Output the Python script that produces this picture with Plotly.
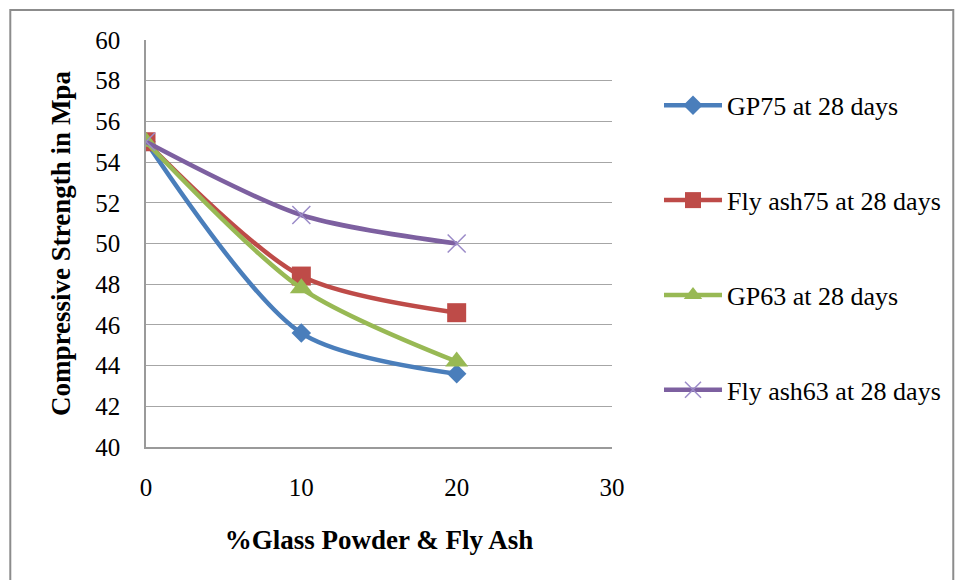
import plotly.graph_objects as go

x_vals = [0, 10, 20]
gp75 = [55.0, 45.6, 43.6]
flyash75 = [55.0, 48.4, 46.6]
gp63 = [55.0, 47.8, 44.2]
flyash63 = [55.0, 51.4, 50.0]

names = ["GP75 at 28 days", "Fly ash75 at 28 days", "GP63 at 28 days", "Fly ash63 at 28 days"]
series = [gp75, flyash75, gp63, flyash63]
colors = ["#4A7EBB", "#BE4B48", "#98B954", "#7D60A0"]
symbols = ["diamond", "square", "triangle-up", "x-thin"]
msizes = [15, 19, 20, 18]

FONT = "Liberation Serif, Times New Roman, serif"

fig = go.Figure()
for i, (nm, ys) in enumerate(zip(names, series)):
    mk = dict(symbol=symbols[i], size=msizes[i], color=colors[i])
    if symbols[i] == "x-thin":
        mk = dict(symbol="x-thin", size=msizes[i], color="#9B8BC8",
                  line=dict(width=1.5, color="#9B8BC8"))
    fig.add_trace(go.Scatter(
        x=x_vals, y=ys, name=nm, mode="lines+markers",
        line=dict(color=colors[i], width=4.5, shape="spline", smoothing=0.8),
        marker=mk, legendgroup=f"g{i}"))

fig.update_layout(
    width=957, height=580,
    margin=dict(l=146, r=344, t=40, b=133),
    paper_bgcolor="white", plot_bgcolor="white",
    font=dict(family=FONT, size=25, color="black"),
    showlegend=True,
    legend=dict(x=1.0985, y=0.897, xanchor="left", yanchor="top",
                font=dict(family=FONT, size=26, color="black"),
                tracegroupgap=58, traceorder="grouped", itemwidth=58,
                bgcolor="rgba(0,0,0,0)"),
    xaxis=dict(range=[0, 30], tickvals=[0, 10, 20, 30], showgrid=False,
               showline=True, linecolor="#9a9a9a", linewidth=1.5,
               zeroline=False, ticks="", ticklabelstandoff=17,
               tickfont=dict(family=FONT, size=25),
               title=dict(text="<b>%Glass Powder & Fly Ash</b>", standoff=30,
                          font=dict(family=FONT, size=27))),
    yaxis=dict(range=[40, 60], tickvals=list(range(40, 61, 2)), showgrid=True,
               gridcolor="#a6a6a6", gridwidth=1.2,
               showline=True, linecolor="#9a9a9a", linewidth=1.5,
               zeroline=False, ticks="", ticklabelstandoff=19,
               tickfont=dict(family=FONT, size=25),
               title=dict(text="<b>Compressive Strength in Mpa</b>", standoff=17,
                          font=dict(family=FONT, size=27))),
)

# outer frame (chart border)
pl, pr, pt, pb = 146, 613, 40, 447
def px_to_paper_x(px):
    return (px - pl) / (pr - pl)
def px_to_paper_y(py):
    return (pb - py) / (pb - pt)
fig.add_shape(type="rect", xref="paper", yref="paper",
              x0=px_to_paper_x(10), x1=px_to_paper_x(955),
              y0=px_to_paper_y(590), y1=px_to_paper_y(10),
              line=dict(color="#8c8c8c", width=2), fillcolor="rgba(0,0,0,0)",
              layer="below")

fig.write_html("out.html")
